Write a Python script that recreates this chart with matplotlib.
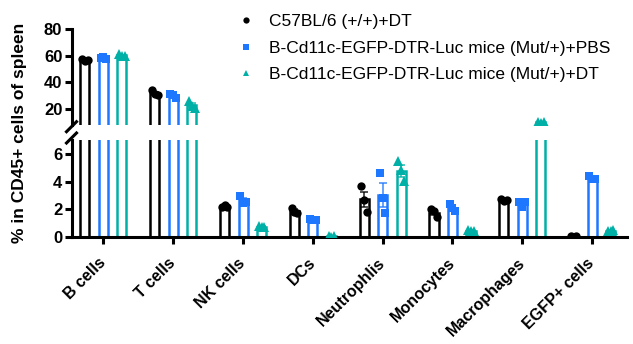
import numpy as np
import matplotlib
matplotlib.use("Agg")
from matplotlib import pyplot as plt
from matplotlib.lines import Line2D

plt.rcParams['font.family'] = ['Liberation Sans', 'DejaVu Sans']

# data
categories = ['B cells', 'T cells', 'NK cells', 'DCs', 'Neutrophlis',
              'Monocytes', 'Macrophages', 'EGFP+ cells']
series_names = ['C57BL/6 (+/+)+DT',
                'B-Cd11c-EGFP-DTR-Luc mice (Mut/+)+PBS',
                'B-Cd11c-EGFP-DTR-Luc mice (Mut/+)+DT']

wt_dt = [[57.5, 56.0, 57.0], [34.0, 31.0, 30.5], [2.2, 2.3, 2.15],
         [2.1, 1.8, 1.7], [3.7, 2.7, 1.8], [2.0, 1.85, 1.45],
         [2.75, 2.6, 2.65], [0.05, 0.03, 0.04]]
mut_pbs = [[58.5, 59.0, 57.5], [31.5, 30.5, 28.5], [2.95, 2.45, 2.55],
           [1.3, 1.2, 1.25], [4.6, 2.8, 1.7], [2.35, 2.1, 1.9],
           [2.5, 2.2, 2.55], [4.4, 4.2, 4.15]]
mut_dt = [[61.0, 60.0, 59.5], [26.0, 22.0, 21.0], [0.8, 0.7, 0.75],
          [0.05, 0.02, 0.04], [5.5, 4.8, 4.05], [0.5, 0.45, 0.42],
          [10.3, 9.7, 10.0], [0.45, 0.4, 0.5]]

top_ticks = [20, 40, 60, 80]
bottom_ticks = [0, 2, 4, 6]
top_range = (8, 80)
bottom_range = (0, 7)

groups = [wt_dt, mut_pbs, mut_dt]
colors = ['black', '#1E78FF', '#00B0A6']
markers = ['o', 's', '^']
msizes = [6, 5.5, 6.5]

W, H = 633, 344
fig = plt.figure(figsize=(W / 100, H / 100), dpi=100)
left = 72 / W
width = 555 / W
ax_top = fig.add_axes([left, (H - 125) / H, width, 96 / H])
ax_bot = fig.add_axes([left, (H - 237) / H, width, 97 / H])

x = np.arange(len(categories))
offset = 0.265
bw = 0.13
jitter = [-0.04, 0.0, 0.04]

for ax, (lo, hi) in ((ax_top, top_range), (ax_bot, bottom_range)):
    for j, data in enumerate(groups):
        vals = np.array(data)
        means = vals.mean(axis=1)
        sem = vals.std(axis=1, ddof=1) / np.sqrt(vals.shape[1])
        xs = x + (j - 1) * offset
        ax.bar(xs, means, width=bw, facecolor='white', edgecolor=colors[j],
               linewidth=1.8, zorder=2)
        ax.errorbar(xs, means, yerr=sem, fmt='none', ecolor=colors[j],
                    elinewidth=1.2, capsize=3, capthick=1.2, zorder=3,
                    alpha=0.8)
        # hide points that fall outside this segment of the broken axis
        shown = np.where((vals >= lo) & (vals <= hi), vals, np.nan)
        for k in range(vals.shape[1]):
            ax.plot(xs + jitter[k], shown[:, k], linestyle='none',
                    marker=markers[j], markersize=msizes[j], color=colors[j],
                    markeredgewidth=0, zorder=4)
    ax.set_xlim(-0.45, 7.5)
    ax.set_ylim(lo, hi)
    for s in ('top', 'right'):
        ax.spines[s].set_visible(False)
    ax.spines['left'].set_linewidth(2.2)
    ax.spines['bottom'].set_linewidth(2.2)
    ax.tick_params(axis='y', width=2.2, length=5, labelsize=12, pad=2)

ax_top.set_yticks(top_ticks)
ax_top.set_yticklabels([str(t) for t in top_ticks], fontweight='bold')
ax_top.spines['bottom'].set_visible(False)
ax_top.set_xticks([])

ax_bot.set_yticks(bottom_ticks)
ax_bot.set_yticklabels([str(t) for t in bottom_ticks], fontweight='bold')
ax_bot.set_xticks(x)
ax_bot.set_xticklabels(categories, rotation=45, ha='right', va='center',
                       rotation_mode='anchor', fontweight='bold', fontsize=11.5)
ax_bot.tick_params(axis='x', width=2.2, length=5, pad=12)

# break marks on the y axis
for y0, y1 in [(131.7, 121.7), (143.0, 133.0)]:
    fig.add_artist(Line2D([66.5 / W, 76.5 / W], [1 - y0 / H, 1 - y1 / H],
                          color='black', linewidth=2.2))

fig.text(20 / W, 1 - 133 / H, '% in CD45+ cells of spleen', rotation=90,
         ha='center', va='center', fontsize=12.5, fontweight='bold')

handles = [Line2D([], [], linestyle='none', marker=markers[j], color=colors[j],
                  markersize=4.5, markeredgewidth=0) for j in range(3)]
fig.legend(handles, series_names, loc='upper left',
           bbox_to_anchor=(237 / W, 1 - 14 / H), frameon=False, fontsize=12.5,
           handlelength=1.0, handletextpad=0.85, labelspacing=0.66,
           borderaxespad=0, borderpad=0)

fig.savefig('out.png', dpi=100)
